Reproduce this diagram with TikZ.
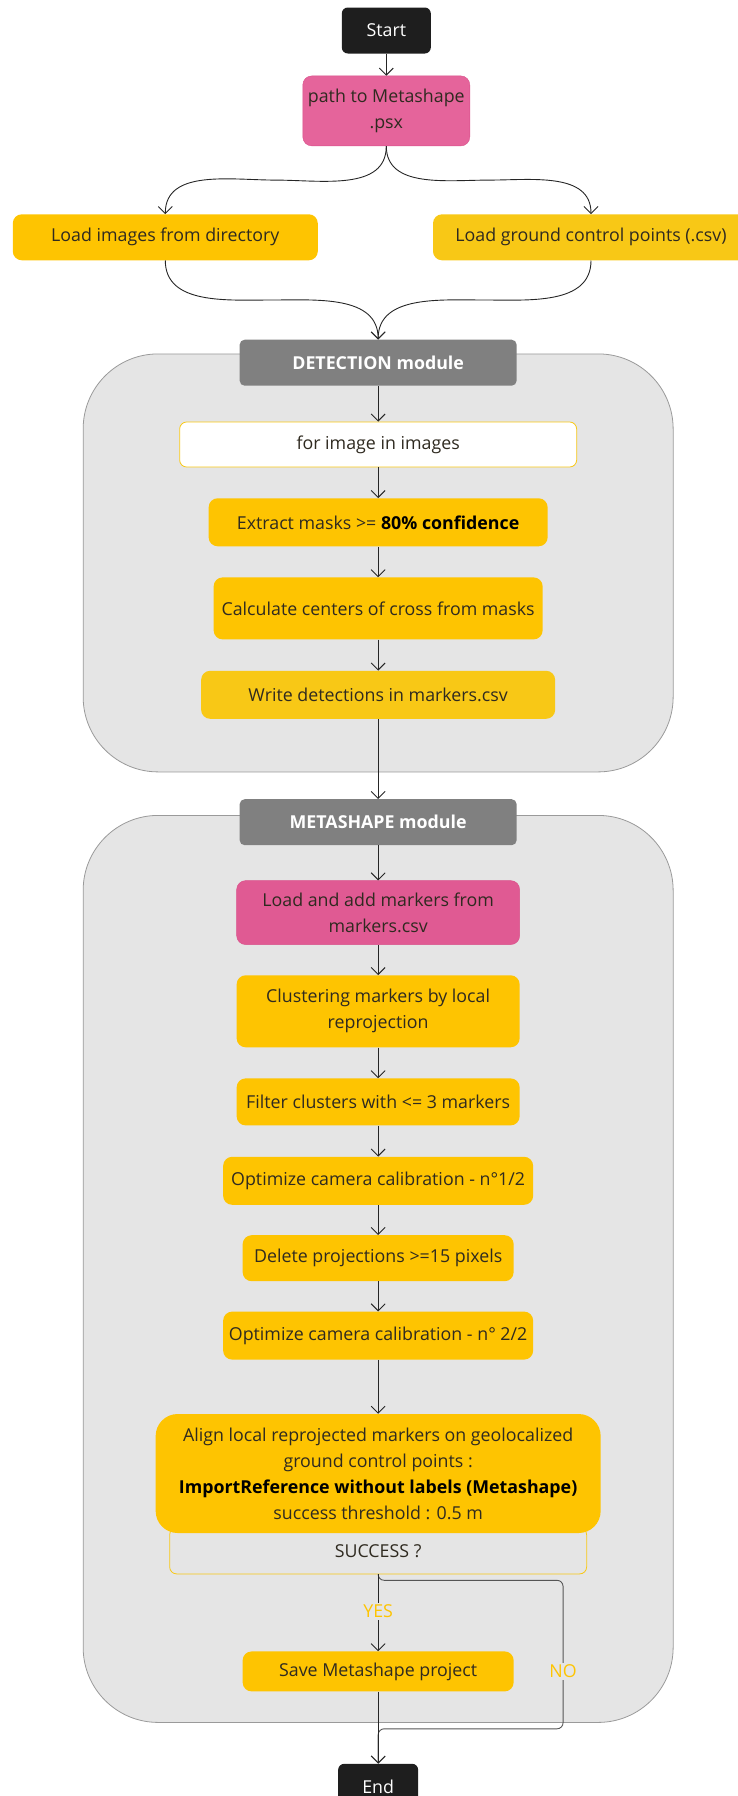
\documentclass[tikz,border=0pt]{standalone}
\usepackage{fontspec}
\setmainfont{Open Sans}
\usepackage{xcolor}
\usepackage{tikz}
\usetikzlibrary{positioning,arrows.meta,calc,backgrounds}

\definecolor{termblack}{HTML}{1E1E1E}
\definecolor{pathpink}{HTML}{E5649B}
\definecolor{pinkline}{HTML}{D9508A}
\definecolor{markpink}{HTML}{E05A93}
\definecolor{stepyellow}{HTML}{FEC401}
\definecolor{softyellow}{HTML}{F8C816}
\definecolor{hdrgray}{HTML}{808080}
\definecolor{modgray}{HTML}{E5E5E5}
\definecolor{modline}{HTML}{9A9A9A}
\definecolor{inktext}{HTML}{2F2A20}
\definecolor{inkline}{HTML}{262626}
\definecolor{noline}{HTML}{555555}

\begin{document}
\begin{tikzpicture}[
  x=1pt, y=1pt,
  font=\fontsize{17.8}{26}\selectfont,
  every node/.style={inner sep=0pt, align=center, text=inktext},
  term/.style={fill=termblack, text=white, rounded corners=6pt, minimum width=89pt, minimum height=46pt},
  inputbox/.style={fill=pathpink, draw=pinkline, rounded corners=9pt, minimum height=70pt},
  stepbox/.style={fill=stepyellow, rounded corners=9pt, minimum height=48pt},
  header/.style={fill=hdrgray, text=white, font=\fontsize{17.8}{26}\selectfont\bfseries, rounded corners=5pt, minimum width=277pt, minimum height=46pt},
  modbox/.style={fill=modgray, draw=modline, line width=0.8pt, rounded corners=75pt, minimum width=590pt},
  loopbox/.style={fill=white, draw=softyellow, line width=0.8pt, rounded corners=7pt, minimum height=45pt},
  lbl/.style={text=stepyellow, fill=modgray, inner sep=2pt},
  arr/.style={-{Straight Barb[length=7pt, width=14pt]}, draw=inkline, line width=0.9pt},
]
  \useasboundingbox (0,0) rectangle (737,-1796);

  % entry
  \node[term] (start) at (386.3,-30.5) {Start};
  \node[inputbox, minimum width=167pt, below=22pt of start] (psx) {path to Metashape\\.psx};
  \node[stepbox, minimum width=305pt, minimum height=46pt, below=68pt of psx, xshift=-221pt] (loadimg) {Load images from directory};
  \node[stepbox, fill=softyellow, minimum width=316pt, minimum height=46pt, below=68pt of psx, xshift=204.7pt] (loadgcp) {Load ground control points (.csv)};

  % detection module
  \node[header, below=79pt of $(loadimg.south)!0.5!(loadgcp.south)$] (dethdr) {DETECTION module};
  \node[loopbox, minimum width=397pt, below=35.7pt of dethdr] (forimg) {for image in images};
  \node[stepbox, minimum width=339pt, below=30.7pt of forimg] (extract) {Extract masks >= \textbf{\color{black}80\% confidence}};
  \node[stepbox, minimum width=329pt, minimum height=62pt, below=30.7pt of extract] (calc) {Calculate centers of cross from masks};
  \node[stepbox, fill=softyellow, minimum width=354pt, below=31pt of calc] (write) {Write detections in markers.csv};

  % metashape module
  \node[header, below=80pt of write] (metahdr) {METASHAPE module};
  \node[inputbox, fill=markpink, minimum width=283pt, minimum height=64pt, below=35pt of metahdr] (loadmk) {Load and add markers from\\markers.csv};
  \node[stepbox, minimum width=283pt, minimum height=72pt, below=30.3pt of loadmk] (cluster) {Clustering markers by local\\reprojection};
  \node[stepbox, minimum width=283pt, minimum height=47pt, below=30.7pt of cluster] (filter) {Filter clusters with <= 3 markers};
  \node[stepbox, minimum width=310pt, below=31pt of filter] (opt1) {Optimize camera calibration - n°1/2};
  \node[stepbox, minimum width=271pt, minimum height=46pt, below=30pt of opt1] (delete) {Delete projections >=15 pixels};
  \node[stepbox, minimum width=310pt, below=30pt of delete] (opt2) {Optimize camera calibration - n° 2/2};
  \node[stepbox, rounded corners=22pt, minimum width=445pt, minimum height=119pt, below=54pt of opt2] (align) {Align local reprojected markers on geolocalized\\ground control points :\\\textbf{\color{black}ImportReference without labels (Metashape)}\\success threshold : 0.5 m};
  \node[stepbox, fill=stepyellow, minimum width=271pt, minimum height=40pt, below=118pt of align] (save) {Save Metashape project};
  \node[term, minimum width=80pt, below=72pt of save] (end) {End};

  \begin{scope}[on background layer]
    \node[modbox, minimum height=418pt, anchor=north] (detbox) at ([yshift=-14pt]dethdr.north) {};
    \node[modbox, minimum height=907pt, anchor=north] (metabox) at ([yshift=-16pt]metahdr.north) {};
    \node[loopbox, fill=modgray, text=inktext, minimum width=417pt, minimum height=46pt, below=-5.7pt of align] (success) {SUCCESS ?};
  \end{scope}

  % split and merge
  \draw[arr] (start) -- (psx);
  \draw[arr] (psx.south) to[out=-90, in=0] ($(psx.south)!0.5!(loadimg.north)$) to[out=180, in=90] (loadimg.north);
  \draw[arr] (psx.south) to[out=-90, in=180] ($(psx.south)!0.5!(loadgcp.north)$) to[out=0, in=90] (loadgcp.north);
  \draw[arr] (loadimg.south) to[out=-90, in=180] ($(loadimg.south)!0.5!(dethdr.north)$) to[out=0, in=90] (dethdr.north);
  \draw[arr] (loadgcp.south) to[out=-90, in=0] ($(loadgcp.south)!0.5!(dethdr.north)$) to[out=180, in=90] (dethdr.north);

  % chain
  \draw[arr] (dethdr) -- (forimg);
  \draw[arr] (forimg) -- (extract);
  \draw[arr] (extract) -- (calc);
  \draw[arr] (calc) -- (write);
  \draw[arr] (write) -- (metahdr);
  \draw[arr] (metahdr) -- (loadmk);
  \draw[arr] (loadmk) -- (cluster);
  \draw[arr] (cluster) -- (filter);
  \draw[arr] (filter) -- (opt1);
  \draw[arr] (opt1) -- (delete);
  \draw[arr] (delete) -- (opt2);
  \draw[arr] (opt2) -- (align);

  % decision
  \coordinate (nocorner) at ([xshift=-24pt, yshift=-6pt]success.south east);
  \coordinate (nojoin) at ([yshift=-6pt]metabox.south -| end.north);
  \draw[arr, draw=noline, rounded corners=6pt] (success.south) |- (nocorner) |- (nojoin) -- (end.north);
  \draw[arr] (success.south) -- node[lbl, pos=0.48] {YES} (save.north);
  \draw[arr] (save) -- (end);
  \node[lbl] at (nocorner |- save) {NO};
\end{tikzpicture}
\end{document}
